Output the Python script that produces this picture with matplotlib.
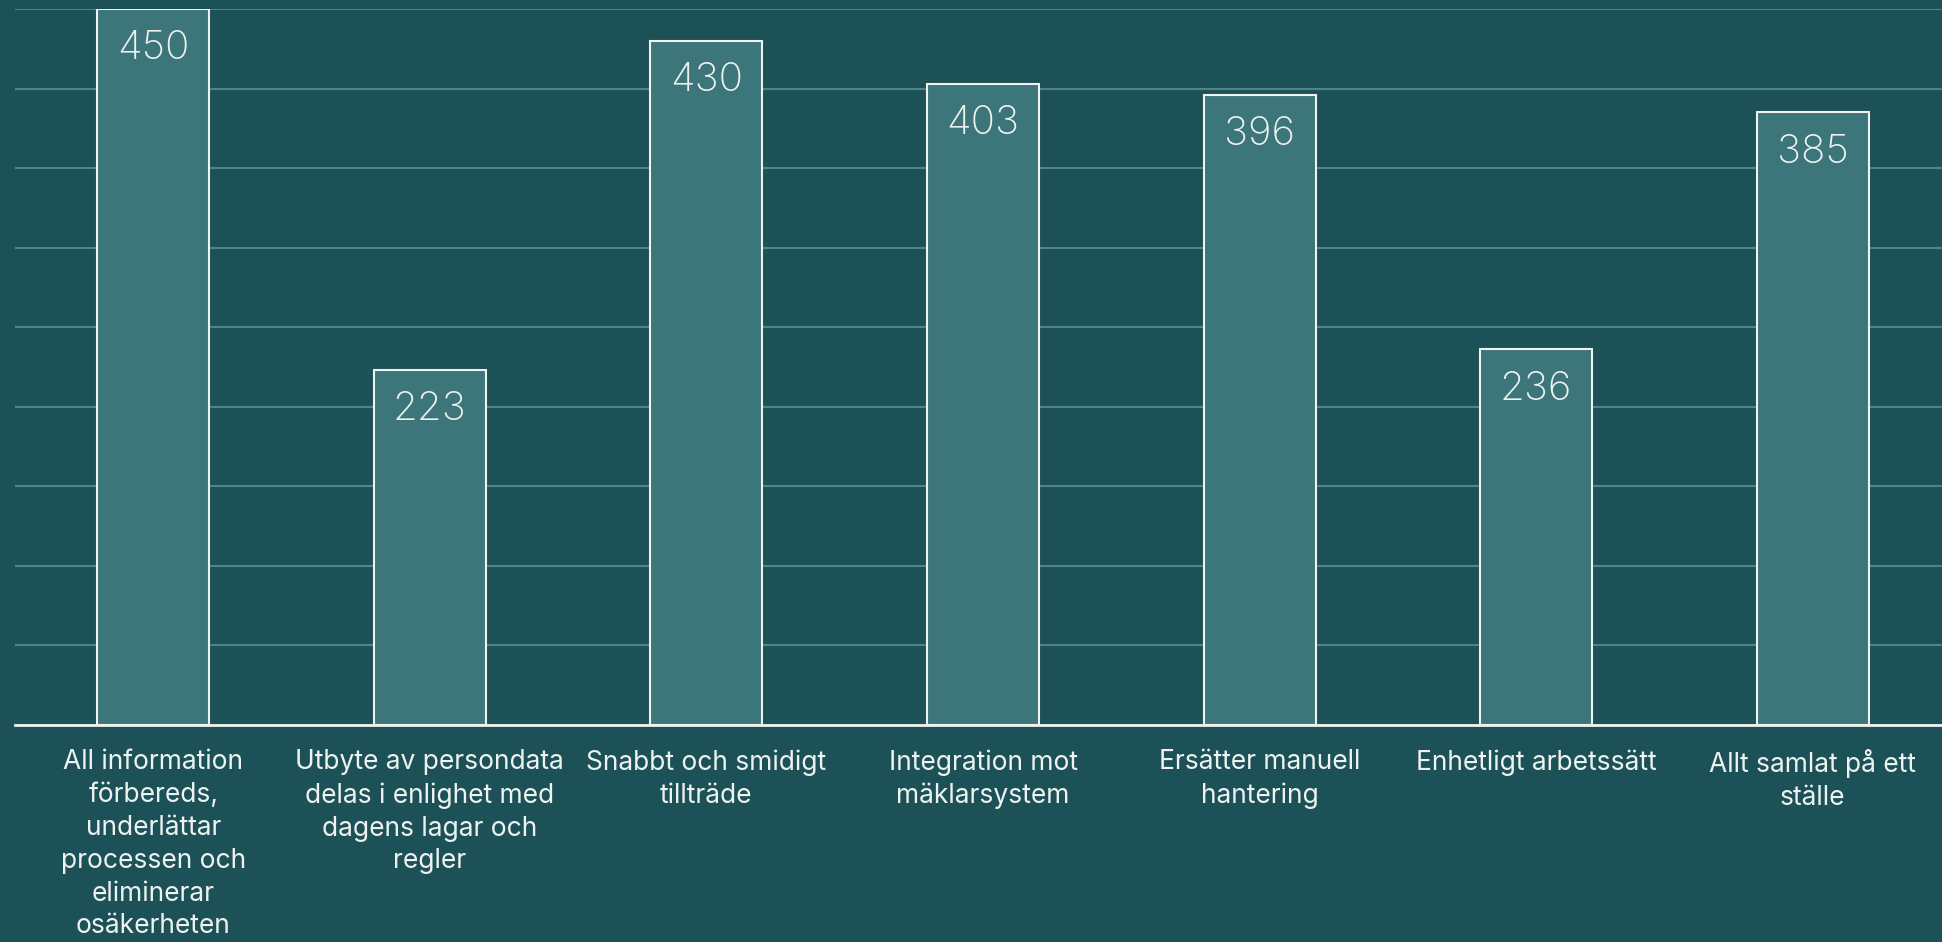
import numpy as np
import matplotlib.pyplot as plt

categories = [
    "All information\nförbereds,\nunderlättar\nprocessen och\neliminerar\nosäkerheten",
    "Utbyte av persondata\ndelas i enlighet med\ndagens lagar och\nregler",
    "Snabbt och smidigt\ntillträde",
    "Integration mot\nmäklarsystem",
    "Ersätter manuell\nhantering",
    "Enhetligt arbetssätt",
    "Allt samlat på ett\nställe",
]
values = [450, 223, 430, 403, 396, 236, 385]

BG = "#1B5157"
BAR = "#3D767A"
GRID = "#4F8488"
WHITE = "#EEF3F1"

plt.rcParams['font.family'] = ['Inter', 'DejaVu Sans']

fig = plt.figure(figsize=(19.42, 9.42), dpi=100, facecolor=BG)
# axes runs a bit past the right edge, like the original
ax = fig.add_axes([15 / 1942, 217 / 942, 1936 / 1942, 716 / 942])
ax.set_facecolor(BG)

x = np.arange(len(values))
ax.bar(x, values, width=0.405, color=BAR, edgecolor=WHITE, linewidth=1.5, zorder=3)

for xi, v in zip(x, values):
    ax.text(xi, v - 25, str(v), ha='center', va='center', color=WHITE,
            fontsize=29, fontweight='light', zorder=4)

ax.set_xlim(-0.5, len(values) - 0.5)
ax.set_ylim(0, 450)
ax.set_yticks(np.arange(0, 451, 50))
ax.yaxis.grid(True, color=GRID, linewidth=1.5, zorder=0)
ax.tick_params(axis='y', left=False, labelleft=False)
ax.tick_params(axis='x', bottom=False, pad=14)
ax.set_xticks(x)
ax.set_xticklabels(categories, color=WHITE, fontsize=19, linespacing=1.34,
                   va='top')

for side in ['top', 'left', 'right']:
    ax.spines[side].set_visible(False)
ax.spines['bottom'].set_color(WHITE)
ax.spines['bottom'].set_linewidth(2)
ax.spines['bottom'].set_zorder(5)

fig.savefig("out.png", dpi=100, facecolor=BG)
